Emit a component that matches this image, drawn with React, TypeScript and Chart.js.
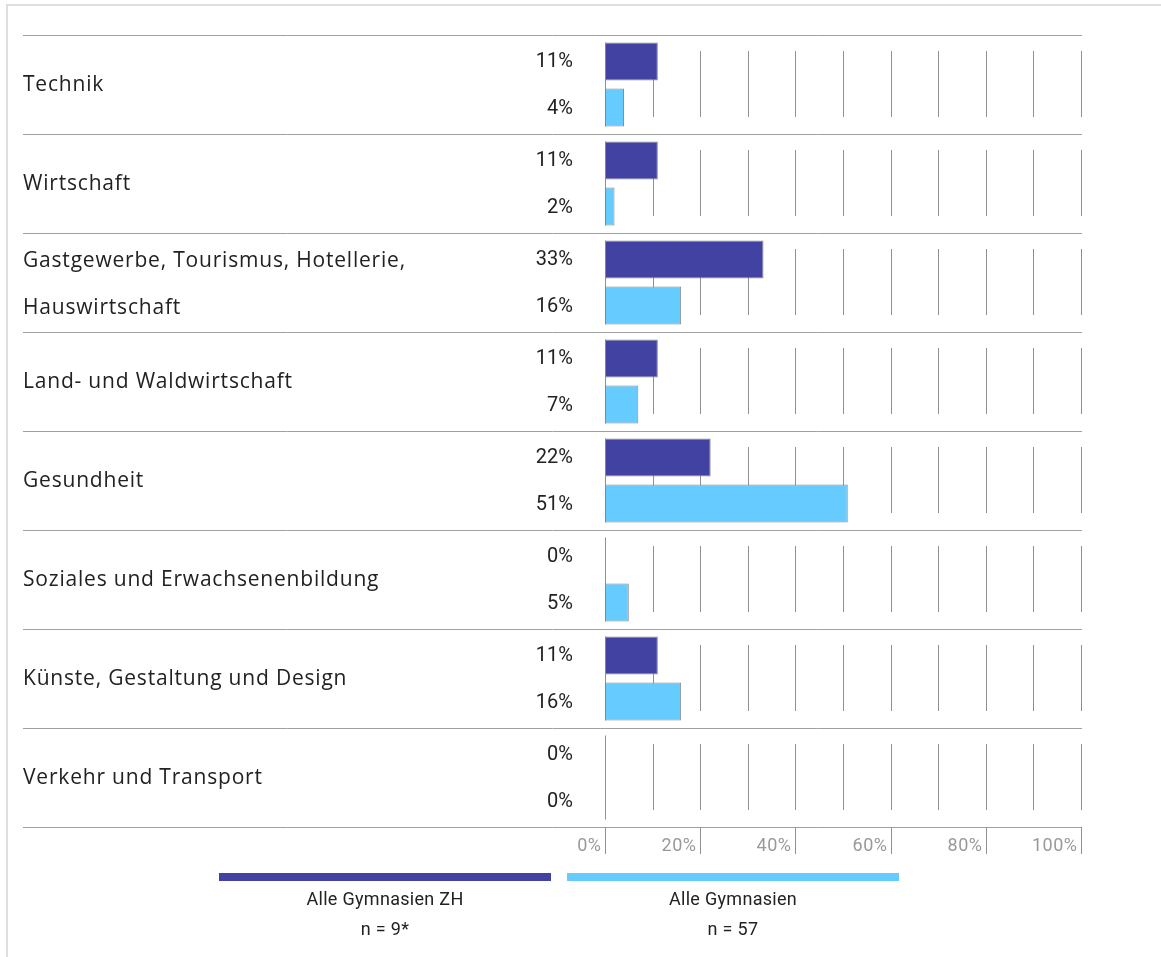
import React, { useEffect, useRef } from "react";
import { Chart, registerables } from "chart.js";

Chart.register(...registerables);

const categories: string[][] = [
  ["Technik"],
  ["Wirtschaft"],
  ["Gastgewerbe, Tourismus, Hotellerie,", "Hauswirtschaft"],
  ["Land- und Waldwirtschaft"],
  ["Gesundheit"],
  ["Soziales und Erwachsenenbildung"],
  ["Künste, Gestaltung und Design"],
  ["Verkehr und Transport"],
];
const zhValues = [11.1, 11.1, 33.3, 11.1, 22.2, 0, 11.1, 0];
const allValues = [4, 2, 16, 7, 51, 5, 16, 0];
const axisTicks = [0, 20, 40, 60, 80, 100];
const gridValues = [10, 20, 30, 40, 50, 60, 70, 80, 90, 100];
const seriesNames = ["Alle Gymnasien ZH", "Alle Gymnasien"];
const seriesN = ["n = 9*", "n = 57"];
const seriesColors = ["#4242a3", "#66ccff"];

const W = 1161;
const H = 957;
const LABEL_X = 23;
const VALUE_X = 573;
const CAT_FONT = '21px "Open Sans"';
const NUM_FONT = '20px Roboto';
const TICK_FONT = '18px Roboto';
const LEG_FONT = '18px Roboto';

const customDraw = {
  id: "customDraw",
  beforeDatasetsDraw(chart: any) {
    const ctx = chart.ctx as CanvasRenderingContext2D;
    const x = chart.scales.x;
    const y = chart.scales.y;
    const area = chart.chartArea;
    const n = categories.length;
    const band = (area.bottom - area.top) / n;
    const m0 = chart.getDatasetMeta(0);
    const m1 = chart.getDatasetMeta(1);
    ctx.save();
    // separators
    ctx.strokeStyle = "#a0a0a0";
    ctx.lineWidth = 1;
    for (let i = 0; i <= n; i++) {
      const yy = Math.round(i < n ? y.getPixelForValue(i) - band / 2 : y.getPixelForValue(n - 1) + band / 2);
      ctx.beginPath();
      ctx.moveTo(LABEL_X, yy + 0.5);
      ctx.lineTo(Math.round(x.getPixelForValue(100)) + 1, yy + 0.5);
      ctx.stroke();
    }
    // grid lines per band
    ctx.strokeStyle = "#909090";
    for (let i = 0; i < n; i++) {
      const top = y.getPixelForValue(i) - band / 2;
      const bottom = top + band;
      gridValues.forEach((v) => {
        const xx = Math.round(x.getPixelForValue(v)) + 0.5;
        ctx.beginPath();
        ctx.moveTo(xx, top + 16);
        ctx.lineTo(xx, bottom - 17);
        ctx.stroke();
      });
      // zero line spanning bars
      const b0: any = m0.data[i];
      const b1: any = m1.data[i];
      const x0 = Math.round(x.getPixelForValue(0)) + 0.5;
      ctx.beginPath();
      ctx.moveTo(x0, b0.y - b0.height / 2);
      ctx.lineTo(x0, b1.y + b1.height / 2);
      ctx.stroke();
    }
    ctx.restore();
  },
  afterDraw(chart: any) {
    const ctx = chart.ctx as any;
    const x = chart.scales.x;
    const y = chart.scales.y;
    const area = chart.chartArea;
    const m0 = chart.getDatasetMeta(0);
    const m1 = chart.getDatasetMeta(1);
    ctx.save();
    // category labels
    ctx.fillStyle = "#222";
    ctx.font = CAT_FONT;
    ctx.letterSpacing = "0.8px";
    ctx.textAlign = "left";
    ctx.textBaseline = "middle";
    categories.forEach((lines, i) => {
      if (lines.length === 1) {
        ctx.fillText(lines[0], LABEL_X, y.getPixelForValue(i) + 1);
      } else {
        const ys = [m0.data[i].y, m1.data[i].y];
        lines.forEach((t, k) => ctx.fillText(t, LABEL_X, ys[k] + 2));
      }
    });
    // value labels
    ctx.font = NUM_FONT;
    ctx.letterSpacing = "0px";
    ctx.textAlign = "right";
    ctx.fillStyle = "#222";
    [m0, m1].forEach((meta: any, d: number) => {
      const vals = d === 0 ? zhValues : allValues;
      meta.data.forEach((el: any, i: number) => {
        ctx.fillText(Math.round(vals[i]) + "%", VALUE_X, el.y + 1);
      });
    });
    // bottom axis
    const base = Math.round(area.bottom);
    ctx.strokeStyle = "#909090";
    ctx.lineWidth = 1;
    ctx.font = TICK_FONT;
    ctx.letterSpacing = "0.5px";
    ctx.fillStyle = "#999";
    ctx.textAlign = "right";
    ctx.textBaseline = "alphabetic";
    axisTicks.forEach((v) => {
      const xx = Math.round(x.getPixelForValue(v)) + 0.5;
      ctx.beginPath();
      ctx.moveTo(xx, base);
      ctx.lineTo(xx, base + 27);
      ctx.stroke();
      ctx.fillText(v + "%", xx - 4, base + 24);
    });
    // legend
    const legLeft = 219;
    const legW = 332;
    const legGap = 16;
    ctx.font = LEG_FONT;
    ctx.letterSpacing = "0.3px";
    ctx.textAlign = "center";
    ctx.textBaseline = "middle";
    seriesNames.forEach((name, k) => {
      const lx = legLeft + k * (legW + legGap);
      ctx.fillStyle = seriesColors[k];
      ctx.fillRect(lx, base + 46, legW, 8);
      ctx.fillStyle = "#222";
      ctx.fillText(name, lx + legW / 2, base + 73);
      ctx.fillText(seriesN[k], lx + legW / 2, base + 103);
    });
    ctx.restore();
  },
};

export default function App() {
  const ref = useRef<HTMLCanvasElement | null>(null);
  useEffect(() => {
    if (!ref.current) return;
    const chart = new Chart(ref.current, {
      type: "bar",
      data: {
        labels: categories.map((c) => c.join(" ")),
        datasets: [
          {
            label: seriesNames[0],
            data: zhValues,
            backgroundColor: seriesColors[0],
            borderColor: "#888",
            borderWidth: 1,
            borderSkipped: false,
            categoryPercentage: 0.93,
            barPercentage: 0.826,
          },
          {
            label: seriesNames[1],
            data: allValues,
            backgroundColor: seriesColors[1],
            borderColor: "#888",
            borderWidth: 1,
            borderSkipped: false,
            categoryPercentage: 0.93,
            barPercentage: 0.826,
          },
        ],
      },
      options: {
        responsive: false,
        animation: false,
        indexAxis: "y",
        layout: { padding: { left: 605, right: 80, top: 35, bottom: 130 } },
        plugins: { legend: { display: false }, tooltip: { enabled: false } },
        scales: {
          x: { display: false, min: 0, max: 100 },
          y: { display: false },
        },
      },
      plugins: [customDraw],
    } as any);
    return () => chart.destroy();
  }, []);
  return (
    <div style={{ position: "absolute", left: 0, top: 0, width: W, height: H, overflow: "hidden", background: "#fff" }}>
      <div
        style={{
          position: "absolute",
          left: 6,
          top: 4,
          width: W,
          height: H,
          borderTop: "2px solid #dedede",
          borderLeft: "2px solid #dedede",
        }}
      />
      <canvas ref={ref} width={W} height={H} style={{ position: "absolute", left: 0, top: 0, display: "block" }} />
    </div>
  );
}
